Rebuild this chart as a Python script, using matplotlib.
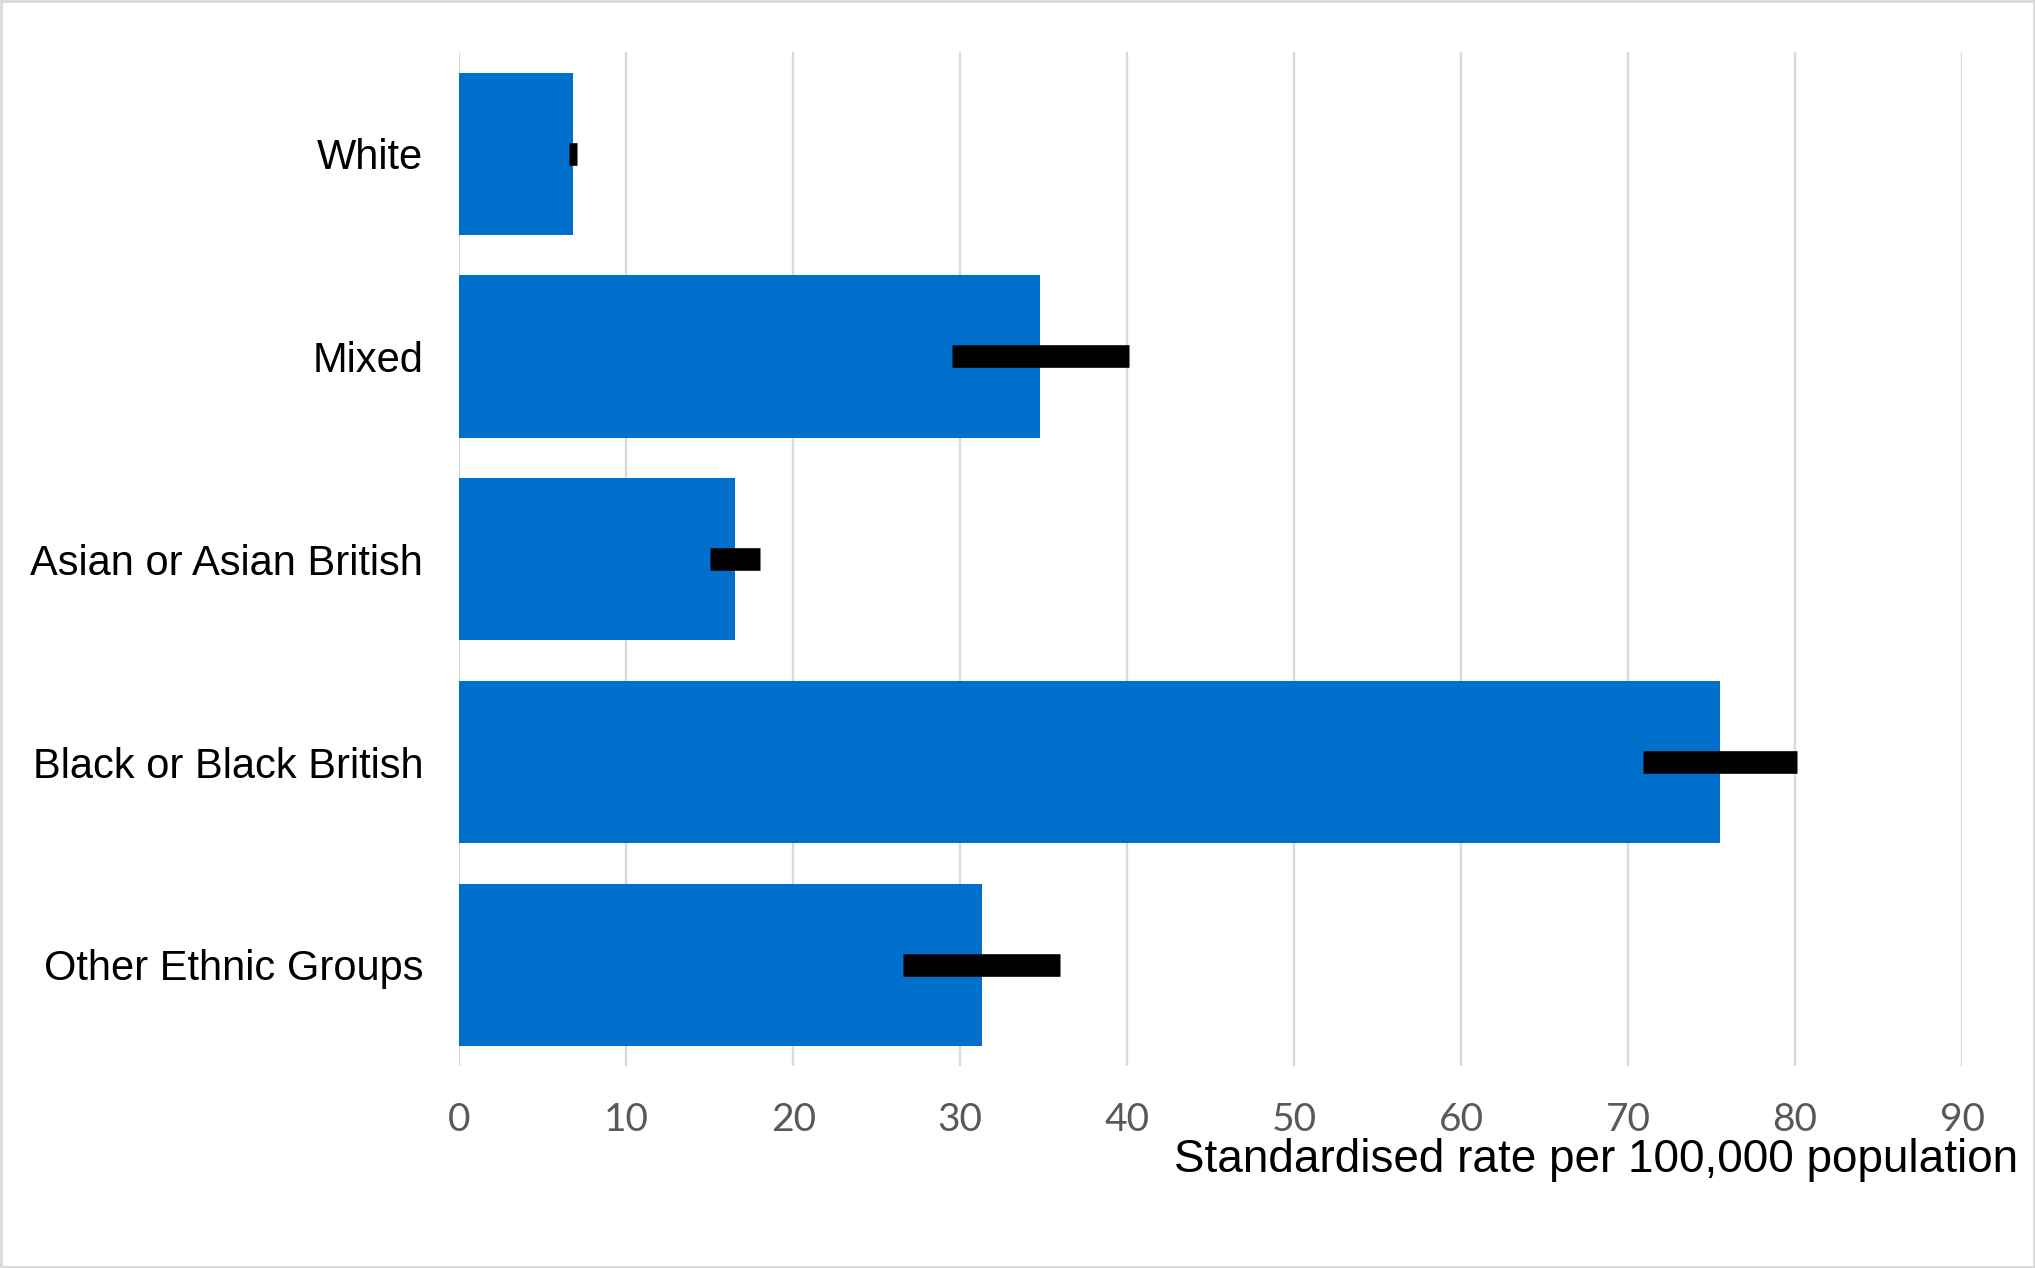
import matplotlib
matplotlib.use("Agg")
import matplotlib.pyplot as plt
from matplotlib.patches import Rectangle

# data
groups = ["White", "Mixed", "Asian or Asian British", "Black or Black British", "Other Ethnic Groups"]
rates = [6.8, 34.8, 16.5, 75.5, 31.3]
lowerCI = [6.6, 29.5, 15.0, 70.9, 26.6]
upperCI = [7.05, 40.1, 18.0, 80.1, 36.0]
xTicks = [0, 10, 20, 30, 40, 50, 60, 70, 80, 90]

W, H = 2035, 1268
fig = plt.figure(figsize=(W / 100, H / 100), dpi=100)
ax = fig.add_axes([459.3 / W, 1 - 1066.3 / H, (1962 - 459.3) / W, (1066.3 - 52.3) / H])

yPos = list(range(len(groups)))
ax.barh(yPos, rates, height=0.8, color="#0070CC", zorder=2)
ax.hlines(yPos, lowerCI, upperCI, colors="black", linewidth=16.3, capstyle="butt", zorder=3)

ax.set_xlim(0, 90)
ax.set_ylim(len(groups) - 0.5, -0.5)
ax.set_xticks(xTicks)
ax.set_xticklabels([str(t) for t in xTicks], fontfamily="Lato", fontsize=28, color="#595959")
ax.set_yticks(yPos)
ax.set_yticklabels(groups, fontfamily="Liberation Sans", fontsize=30, color="black")
ax.tick_params(axis="x", length=0, pad=26)
ax.tick_params(axis="y", length=0, pad=26)
ax.grid(axis="x", color="#D9D9D9", linewidth=1.7, zorder=0)
ax.set_axisbelow(True)
for s in ax.spines.values():
    s.set_visible(False)

fig.text(2018 / W, 1 - 1160 / H, "Standardised rate per 100,000 population",
         ha="right", va="center", fontfamily="Liberation Sans", fontsize=33, color="black")

fig.patches.append(Rectangle((0.0005, 0.0008), 0.999, 0.9985, transform=fig.transFigure,
                             fill=False, edgecolor="#D9D9D9", linewidth=2))

fig.savefig("out.png", dpi=100, facecolor="white")
